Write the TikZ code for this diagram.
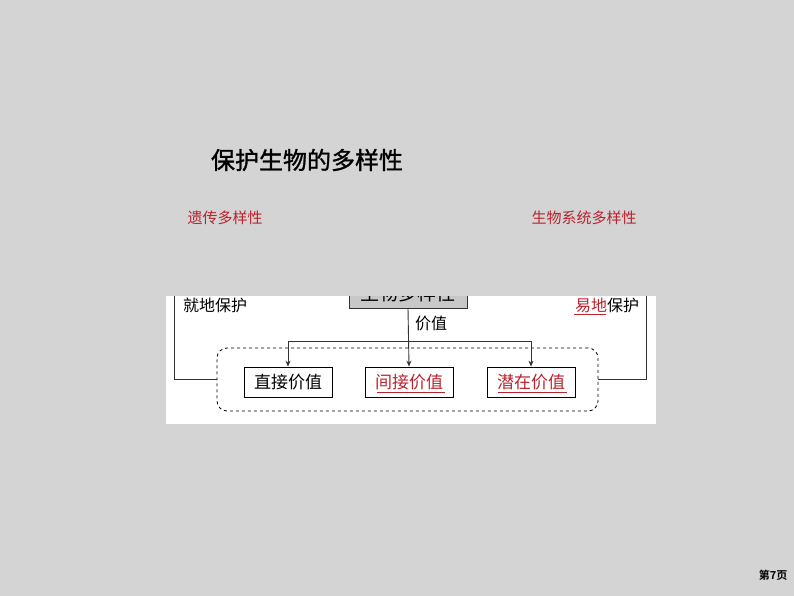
\documentclass[tikz,border=0pt]{standalone}
\usepackage{fontspec}
\setmainfont{Noto Sans CJK SC}
\newfontfamily\cjk{Noto Sans CJK SC}
\newfontfamily\cjkt[FakeBold=1.2]{Noto Sans CJK SC}
\newfontfamily\cjkb{Noto Sans CJK SC Bold}
\usetikzlibrary{arrows.meta}
\definecolor{bgc}{RGB}{212,212,212}
\definecolor{redt}{RGB}{185,35,45}
\definecolor{grayfill}{RGB}{200,200,200}
\tikzset{
  boxn/.style={draw=black, line width=0.8pt, minimum width=88pt, minimum height=30pt, inner sep=0pt, font=\cjk\fontsize{17}{17}\selectfont},
  lab/.style={inner sep=0pt, font=\cjk\fontsize{16}{16}\selectfont},
  conn/.style={draw=black!80, line width=0.9pt},
  arr/.style={conn, -{Stealth[length=6pt,width=5pt]}},
}
\begin{document}
\begin{tikzpicture}[x=1pt,y=-1pt]
\useasboundingbox (0,0) rectangle (794,596);
\fill[bgc] (0,0) rectangle (794,596);
% title and headings
\node[inner sep=0pt, font=\cjkt\fontsize{24}{24}\selectfont] (title) at (307,160) {保护生物的多样性};
\node[inner sep=0pt, text=redt, font=\cjk\fontsize{15}{15}\selectfont] (gen) at (225,218) {遗传多样性};
\node[inner sep=0pt, text=redt, font=\cjk\fontsize{15}{15}\selectfont] (eco) at (584,218) {生物系统多样性};
\node[inner sep=0pt, font=\cjkb\fontsize{11}{11}\selectfont] (page) at (773,575) {第7页};
% white panel
\fill[white] (166,296) rectangle (656,424);
% gray box (top cut off)
\begin{scope}
\clip (166,296) rectangle (656,330);
\node[draw=black!80, fill=grayfill, line width=0.8pt, minimum width=118pt, minimum height=30pt, inner sep=0pt, font=\cjk\fontsize{19}{19}\selectfont] (g) at (408,293) {生物多样性};
\end{scope}
% dashed group
\node[draw=black, dashed, rounded corners=10pt, line width=0.8pt, minimum width=381pt, minimum height=63pt, inner sep=0pt] (dash) at (407.5,379.5) {};
\node[boxn] (b1) at (288,382) {直接价值};
\node[boxn, text=redt] (b2) at (409,382) {间接价值};
\node[boxn, text=redt] (b3) at (531,382) {潜在价值};
\draw[line width=0.7pt, redt] (377,392) -- (445,392);
\draw[line width=0.7pt, redt] (498,392) -- (567,392);
% value label
\node[lab] (val) at (431,323) {价值};
% connectors
\coordinate (j) at (408,341);
\draw[arr] (g.south) -- (b2.north);
\draw[arr] (j) -| (b1.north);
\draw[arr] (j) -| (b3.north);
\coordinate (lt) at (174,296);
\coordinate (rt) at (646,296);
\draw[conn] (lt) |- (dash.west);
\draw[conn] (rt) |- (dash.east);
% side labels
\node[lab] (jd) at (215,305) {就地保护};
\node[lab, anchor=west] (yd) at (575,305) {\textcolor{redt}{易地}保护};
\draw[line width=0.7pt, redt] (574,314) -- (606,314);
\end{tikzpicture}
\end{document}
